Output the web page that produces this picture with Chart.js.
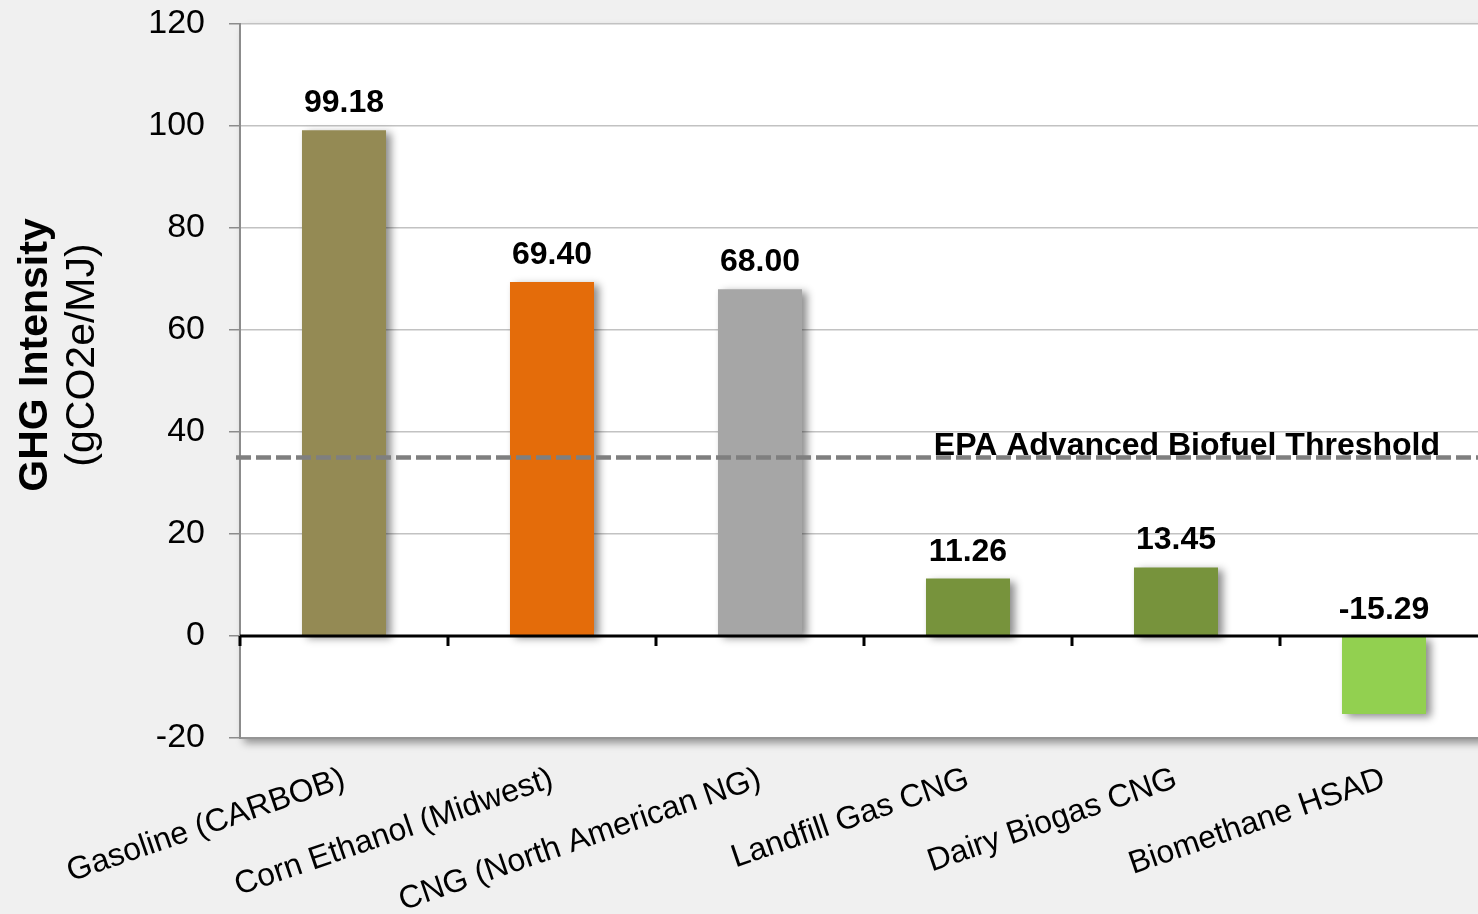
<!DOCTYPE html>
<html>
<head>
<meta charset="utf-8">
<title>GHG Intensity</title>
<script src="https://cdn.jsdelivr.net/npm/chart.js@4/dist/chart.umd.min.js"></script>
<style>
    html, body {
        margin: 0;
        padding: 0;
        background: #f0f0f0;
        overflow: hidden;
    }
    #wrap {
        width: 1500px;
        height: 914px;
    }
</style>
</head>
<body>
<div id="wrap">
    <canvas id="ghg-chart" width="1500" height="914"></canvas>
</div>
<script>
// Fuel pathways and their carbon intensity
const categories = [
    'Gasoline (CARBOB)',
    'Corn Ethanol (Midwest)',
    'CNG (North American NG)',
    'Landfill Gas CNG',
    'Dairy Biogas CNG',
    'Biomethane HSAD'
];
const intensities = [99.18, 69.40, 68.00, 11.26, 13.45, -15.29];
const barColors = ['#948a54', '#e46c0a', '#a6a6a6', '#77933c', '#77933c', '#92d050'];

// Reference line
const thresholdValue = 35;
const thresholdLabel = 'EPA Advanced Biofuel Threshold';

// Y axis range
const yMin = -20;
const yMax = 120;
const yStep = 20;

const FONT = '"Liberation Sans", Arial, sans-serif';

document.addEventListener('DOMContentLoaded', () => {
    const canvas = document.getElementById('ghg-chart');

    // White plot area with a soft drop shadow
    const plotBackground = {
        id: 'plotBackground',
        beforeDraw(chart) {
            const { ctx, chartArea: a } = chart;
            ctx.save();
            ctx.shadowColor = 'rgba(0, 0, 0, 0.4)';
            ctx.shadowBlur = 8;
            ctx.shadowOffsetX = 4;
            ctx.shadowOffsetY = 5;
            ctx.fillStyle = '#ffffff';
            ctx.fillRect(a.left, a.top, a.right - a.left, a.bottom - a.top);
            ctx.restore();
        }
    };

    // Shadow behind the bars
    const barShadow = {
        id: 'barShadow',
        beforeDatasetsDraw(chart) {
            const ctx = chart.ctx;
            ctx.save();
            ctx.shadowColor = 'rgba(0, 0, 0, 0.45)';
            ctx.shadowBlur = 8;
            ctx.shadowOffsetX = 5;
            ctx.shadowOffsetY = 3;
        },
        afterDatasetsDraw(chart) {
            chart.ctx.restore();
        }
    };

    // Zero line with category ticks, threshold line and value labels
    const overlays = {
        id: 'overlays',
        afterDatasetsDraw(chart) {
            const { ctx, chartArea: a, scales: { x, y } } = chart;
            const zeroY = y.getPixelForValue(0);
            const step = x.getPixelForValue(1) - x.getPixelForValue(0);

            ctx.save();
            // horizontal axis crossing at zero
            ctx.strokeStyle = '#000000';
            ctx.lineWidth = 3;
            ctx.beginPath();
            ctx.moveTo(a.left, zeroY);
            ctx.lineTo(a.right, zeroY);
            for (let i = 0; i <= categories.length; i++) {
                const bx = x.getPixelForValue(0) - step / 2 + i * step;
                ctx.moveTo(bx, zeroY);
                ctx.lineTo(bx, zeroY + 10);
            }
            ctx.stroke();

            // threshold line
            const ty = y.getPixelForValue(thresholdValue);
            ctx.strokeStyle = '#7f7f7f';
            ctx.lineWidth = 4.5;
            ctx.setLineDash([15, 5]);
            ctx.beginPath();
            ctx.moveTo(a.left - 4, ty);
            ctx.lineTo(a.right, ty);
            ctx.stroke();
            ctx.setLineDash([]);

            ctx.fillStyle = '#000000';
            ctx.font = 'bold 32px ' + FONT;
            ctx.textAlign = 'right';
            ctx.textBaseline = 'alphabetic';
            ctx.fillText(thresholdLabel, a.right - 48, ty - 3);

            // value labels above each bar (or above the base for negatives)
            ctx.textAlign = 'center';
            const meta = chart.getDatasetMeta(0);
            meta.data.forEach((bar, i) => {
                const top = Math.min(bar.y, bar.base);
                ctx.fillText(intensities[i].toFixed(2), bar.x, top - 18);
            });
            ctx.restore();
        }
    };

    // Two-line axis title: bold name, regular unit
    const yTitle = {
        id: 'yTitle',
        afterDraw(chart) {
            const ctx = chart.ctx;
            ctx.save();
            ctx.translate(0, 355);
            ctx.rotate(-Math.PI / 2);
            ctx.fillStyle = '#000000';
            ctx.textAlign = 'center';
            ctx.textBaseline = 'alphabetic';
            ctx.font = 'bold 41px ' + FONT;
            ctx.fillText('GHG Intensity', 0, 47);
            ctx.font = '41px ' + FONT;
            ctx.fillText('(gCO2e/MJ)', 0, 94);
            ctx.restore();
        }
    };

    new Chart(canvas.getContext('2d'), {
        type: 'bar',
        data: {
            labels: categories,
            datasets: [{
                data: intensities,
                backgroundColor: barColors,
                borderWidth: 0,
                barPercentage: 0.404,
                categoryPercentage: 1.0
            }]
        },
        options: {
            responsive: false,
            animation: false,
            events: [],
            layout: {
                padding: { top: 24, right: 12, left: 0, bottom: 0 }
            },
            plugins: {
                legend: { display: false },
                tooltip: { enabled: false }
            },
            scales: {
                x: {
                    offset: true,
                    grid: { display: false, drawTicks: false },
                    border: { display: true, color: '#959595', width: 2 },
                    ticks: {
                        color: '#000000',
                        font: { family: FONT, size: 32 },
                        minRotation: 19,
                        maxRotation: 19,
                        padding: 22,
                        autoSkip: false
                    },
                    afterFit(scale) {
                        scale.height = 176;
                    }
                },
                y: {
                    min: yMin,
                    max: yMax,
                    grid: {
                        color: '#c2c2c2',
                        lineWidth: 1.5,
                        tickColor: '#8c8c8c',
                        tickLength: 11
                    },
                    border: { display: true, color: '#8c8c8c', width: 2 },
                    ticks: {
                        stepSize: yStep,
                        color: '#000000',
                        font: { family: FONT, size: 34 },
                        padding: 24
                    },
                    afterFit(scale) {
                        scale.width = 240;
                        // label padding is already covered by the layout padding
                        scale.paddingTop = 0;
                        scale.paddingBottom = 0;
                    }
                }
            }
        },
        plugins: [plotBackground, barShadow, overlays, yTitle]
    });
});
</script>
</body>
</html>
